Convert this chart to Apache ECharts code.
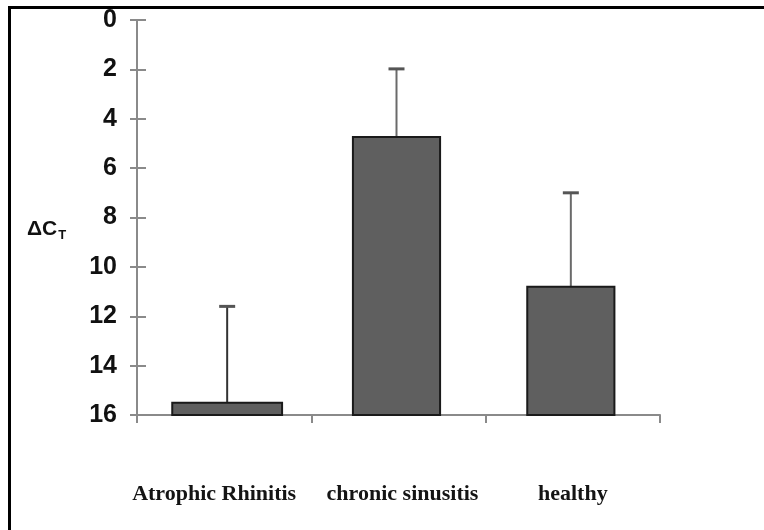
<!DOCTYPE html>
<html>
<head>
<meta charset="utf-8">
<script src="https://cdn.jsdelivr.net/npm/echarts@6/dist/echarts.min.js"></script>
<style>
  html, body { margin: 0; padding: 0; background: #fff; }
  #chart { width: 764px; height: 530px; }
</style>
</head>
<body>
<div id="chart"></div>
<script>
// ---- data ----
const categories = ['Atrophic Rhinitis', 'chronic sinusitis', 'healthy'];
const meanDeltaCt = [15.5, 4.74, 10.8];
const sdDeltaCt = [3.9, 2.76, 3.8];
const yTicks = [0, 2, 4, 6, 8, 10, 12, 14, 16];

// ---- style ----
const barFractions = [0.63, 0.5, 0.5];
const barShift = [3, -2, -2];

const chart = echarts.init(document.getElementById('chart'));

const seriesData = categories.map((c, i) => [i, meanDeltaCt[i], sdDeltaCt[i]]);

function renderBar(params, api) {
  const idx = api.value(0);
  const mean = api.value(1);
  const sd = api.value(2);
  const base = api.coord([idx, yTicks[yTicks.length - 1]]);
  const top = api.coord([idx, mean]);
  const errTop = api.coord([idx, mean - sd]);
  const band = api.size([1, 0])[0];
  const w = band * barFractions[idx];
  const cx = top[0] + barShift[idx];
  return {
    type: 'group',
    children: [
      {
        type: 'line',
        shape: { x1: cx, y1: top[1], x2: cx, y2: errTop[1] },
        style: { stroke: idx === 0 ? '#333' : '#6a6a6a', lineWidth: 2 }
      },
      {
        type: 'line',
        shape: { x1: cx - 8, y1: errTop[1], x2: cx + 8, y2: errTop[1] },
        style: { stroke: '#555', lineWidth: 3 }
      },
      {
        type: 'rect',
        shape: { x: cx - w / 2, y: top[1], width: w, height: base[1] - top[1] },
        style: { fill: '#5f5f5f', stroke: '#1a1a1a', lineWidth: 2 }
      }
    ]
  };
}

const labelFont = {
  color: '#141414',
  fontFamily: 'Liberation Serif, DejaVu Serif, serif',
  fontWeight: 'bold',
  fontSize: 22
};

chart.setOption({
  animation: false,
  backgroundColor: '#fff',
  grid: { left: 137, right: 104, top: 20, bottom: 115, containLabel: false },
  xAxis: {
    type: 'category',
    data: categories,
    position: 'bottom',
    boundaryGap: true,
    axisLine: { show: true, onZero: false, lineStyle: { color: '#8a8a8a', width: 2 } },
    axisTick: { show: true, length: 8, lineStyle: { color: '#8a8a8a', width: 2 } },
    axisLabel: Object.assign({
      interval: 0,
      margin: 68,
      formatter: (v, i) => i === 0 ? '{l|' + v + '}' : i === 1 ? '{m|' + v + '}' : '{n|' + v + '}',
      rich: {
        l: Object.assign({ padding: [0, 20, 0, 0] }, labelFont),
        m: Object.assign({ padding: [0, 0, 0, 8] }, labelFont),
        n: Object.assign({}, labelFont)
      }
    }, labelFont),
    splitLine: { show: false }
  },
  yAxis: [
    {
      type: 'value',
      inverse: true,
      min: 0,
      max: 16,
      interval: 2,
      axisLine: { show: true, lineStyle: { color: '#8a8a8a', width: 2 } },
      axisTick: { show: true, length: 7, lineStyle: { color: '#8a8a8a', width: 2 } },
      axisLabel: {
        margin: 20,
        color: '#111',
        fontFamily: 'Liberation Sans, Arial, sans-serif',
        fontWeight: 'bold',
        fontSize: 25,
        formatter: v => yTicks.includes(v) ? String(v) : ''
      },
      splitLine: { show: false }
    },
    {
      type: 'value',
      inverse: true,
      min: 0,
      max: 16,
      interval: 2,
      position: 'left',
      axisLine: { show: false },
      axisTick: { show: true, inside: true, length: 9, lineStyle: { color: '#8a8a8a', width: 2 } },
      axisLabel: { show: false },
      splitLine: { show: false }
    }
  ],
  graphic: [
    { type: 'rect', shape: { x: 8, y: 6, width: 760, height: 3 }, style: { fill: '#000' } },
    { type: 'rect', shape: { x: 8, y: 6, width: 3, height: 530 }, style: { fill: '#000' } },
    {
      type: 'text',
      left: 27,
      top: 219,
      style: {
        text: '{a|ΔC}{b|T}',
        rich: {
          a: { fontFamily: 'Liberation Sans, Arial, sans-serif', fontWeight: 'bold', fontSize: 21, fill: '#111' },
          b: { fontFamily: 'Liberation Sans, Arial, sans-serif', fontWeight: 'bold', fontSize: 13, fill: '#111', padding: [11, 0, 0, 1] }
        }
      }
    }
  ],
  series: [
    {
      type: 'custom',
      renderItem: renderBar,
      data: seriesData,
      encode: { x: 0, y: 1 },
      clip: false
    }
  ]
});
</script>
</body>
</html>
